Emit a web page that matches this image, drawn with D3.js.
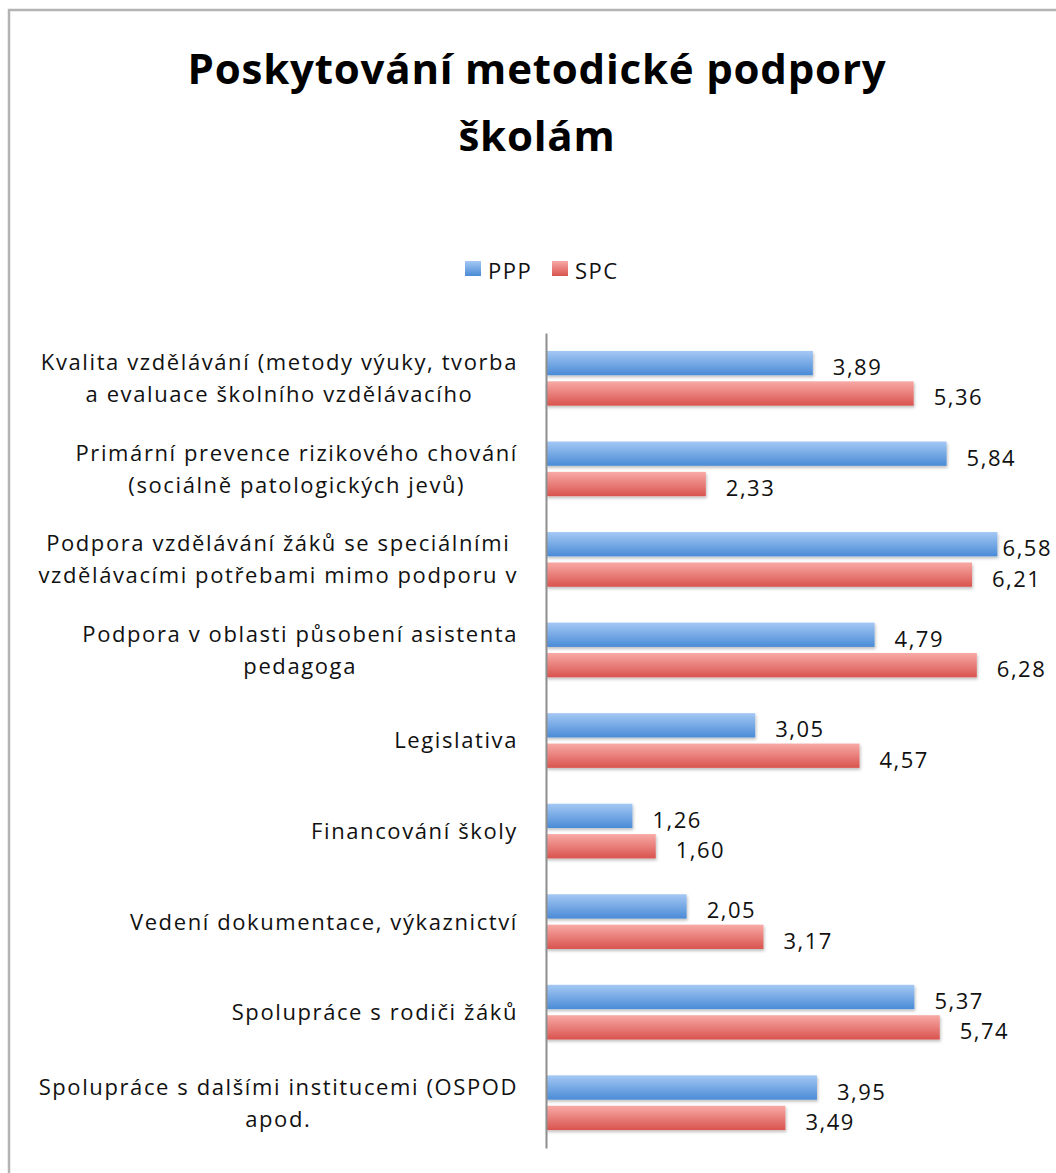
<!DOCTYPE html>
<html>
<head>
<meta charset="utf-8">
<script src="https://cdn.jsdelivr.net/npm/d3@7"></script>
<style>
  body { margin: 0; background: #fff; }
  svg { display: block; }
</style>
</head>
<body>
<svg id="chart" width="1056" height="1173"></svg>
<script>
// data
const categories = [
    ["Kvalita vzdělávání (metody výuky, tvorba", "a evaluace školního vzdělávacího"],
    ["Primární prevence rizikového chování", "(sociálně patologických jevů)"],
    ["Podpora vzdělávání žáků se speciálními", "vzdělávacími potřebami mimo podporu v"],
    ["Podpora v oblasti působení asistenta", "pedagoga"],
    ["Legislativa"],
    ["Financování školy"],
    ["Vedení dokumentace, výkaznictví"],
    ["Spolupráce s rodiči žáků"],
    ["Spolupráce s dalšími institucemi (OSPOD", "apod."]
];
const seriesNames = ["PPP", "SPC"];
const ppp = [3.89, 5.84, 6.58, 4.79, 3.05, 1.26, 2.05, 5.37, 3.95];
const spc = [5.36, 2.33, 6.21, 6.28, 4.57, 1.60, 3.17, 5.74, 3.49];
const titleLines = ["Poskytování metodické podpory", "školám"];

const svg = d3.select("#chart");
const font = "'Open Sans', sans-serif";

// gradients + shadow like the office chart
const defs = svg.append("defs");
const grads = [
    {id: "gPPP", top: "#a4c8f4", bottom: "#4a8bd6"},
    {id: "gSPC", top: "#f8aaa6", bottom: "#d9534e"}
];
grads.forEach(g => {
    const lg = defs.append("linearGradient").attr("id", g.id)
        .attr("x1", 0).attr("y1", 0).attr("x2", 0).attr("y2", 1);
    lg.append("stop").attr("offset", "0%").attr("stop-color", g.top);
    lg.append("stop").attr("offset", "100%").attr("stop-color", g.bottom);
});
defs.append("filter").attr("id", "shadow")
    .attr("x", "-5%").attr("y", "-30%").attr("width", "110%").attr("height", "170%")
    .append("feDropShadow")
    .attr("dx", 1).attr("dy", 2).attr("stdDeviation", 1.5)
    .attr("flood-color", "#000").attr("flood-opacity", 0.25);

// frame around chart area (runs off the page right and bottom)
svg.append("rect")
    .attr("x", 9).attr("y", 10)
    .attr("width", 1100).attr("height", 1200)
    .attr("fill", "none").attr("stroke", "#b4b4b4").attr("stroke-width", 2.5);

// title
svg.append("g").selectAll("text")
    .data(titleLines)
    .join("text")
    .attr("x", 537)
    .attr("y", (d, i) => 84 + i * 67)
    .attr("text-anchor", "middle")
    .attr("font-family", font)
    .attr("font-weight", "bold")
    .attr("font-size", 42)
    .attr("letter-spacing", 0.8)
    .attr("fill", "#000")
    .text(d => d);

// legend
const legend = svg.append("g");
const legendX = [465, 552];
seriesNames.forEach((s, i) => {
    legend.append("rect")
        .attr("x", legendX[i]).attr("y", 261)
        .attr("width", 16).attr("height", 15)
        .attr("fill", `url(#${grads[i].id})`);
    legend.append("text")
        .attr("x", legendX[i] + 23).attr("y", 279)
        .attr("font-family", font).attr("font-size", 22)
        .attr("letter-spacing", 1.5)
        .attr("fill", "#111")
        .text(s);
});

// scales
const x = d3.scaleLinear().domain([0, 7]).range([546, 546 + 7 * 68.6]);
const y = d3.scaleBand().domain(d3.range(categories.length)).range([333, 1148]);
const inner = d3.scaleBand().domain(seriesNames).range([0, y.bandwidth()])
    .paddingInner(0.2).paddingOuter(0.59);

const rows = categories.map((c, i) => ({i, label: c, vals: [ppp[i], spc[i]]}));

// bars
const groups = svg.append("g").selectAll("g.cat")
    .data(rows)
    .join("g")
    .attr("class", "cat")
    .attr("transform", d => `translate(0,${y(d.i)})`);

groups.selectAll("rect")
    .data(d => d.vals.map((v, k) => ({v, s: seriesNames[k], k})))
    .join("rect")
    .attr("x", x(0))
    .attr("y", d => inner(d.s))
    .attr("width", d => x(d.v) - x(0))
    .attr("height", inner.bandwidth())
    .attr("fill", d => `url(#${grads[d.k].id})`)
    .attr("filter", "url(#shadow)");

// data labels, pushed back inside the plot when they would run off the edge
const plotRight = 1052;
groups.selectAll("text.val")
    .data(d => d.vals.map((v, k) => ({v, s: seriesNames[k]})))
    .join("text")
    .attr("class", "val")
    .attr("y", d => inner(d.s) + inner.bandwidth() / 2 + 12)
    .attr("font-family", font).attr("font-size", 22)
    .attr("letter-spacing", 1.5)
    .attr("fill", "#111")
    .text(d => d3.format(".2f")(d.v).replace(".", ","))
    .attr("x", function (d) {
        const w = this.getComputedTextLength();
        return Math.min(x(d.v) + 20, plotRight - w);
    });

// category labels: block right aligned, lines centred within block
const labelRight = 518;
groups.each(function (d) {
    const g = d3.select(this);
    const n = d.label.length;
    const texts = g.selectAll("text.cat")
        .data(d.label)
        .join("text")
        .attr("class", "cat")
        .attr("y", (t, j) => y.bandwidth() / 2 + 8 + (j - (n - 1) / 2) * 32)
        .attr("font-family", font).attr("font-size", 22)
        .attr("letter-spacing", 1.6)
        .attr("fill", "#111")
        .attr("text-anchor", "middle")
        .text(t => t);
    let w = 0;
    texts.each(function () { w = Math.max(w, this.getComputedTextLength()); });
    texts.attr("x", labelRight - w / 2);
});

// vertical category axis
svg.append("g")
    .attr("transform", `translate(${x(0)},0)`)
    .call(d3.axisLeft(y).tickSize(0).tickFormat(""))
    .call(g => g.select(".domain").attr("stroke", "#8e8e8e").attr("stroke-width", 2));
</script>
</body>
</html>
